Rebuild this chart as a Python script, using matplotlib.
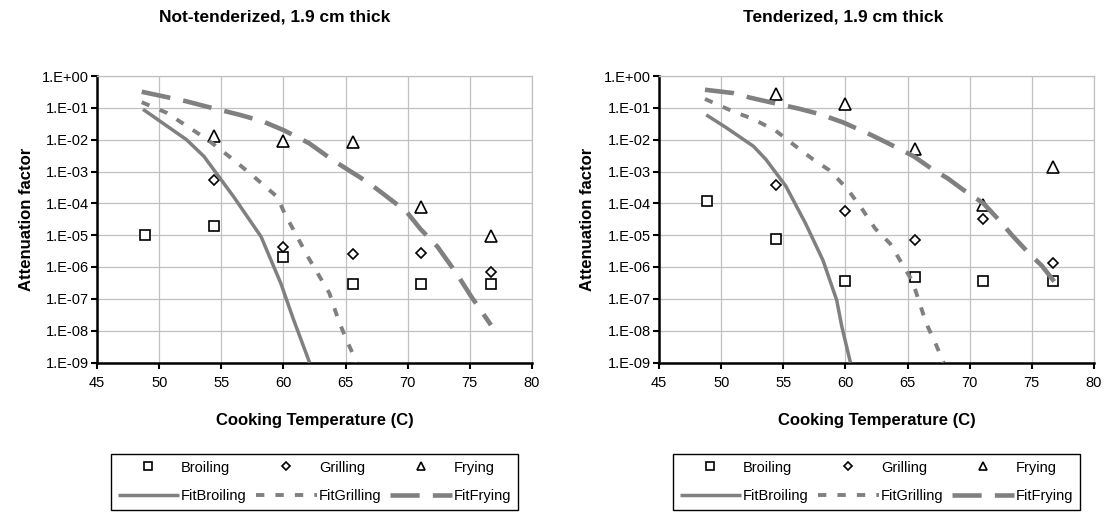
import matplotlib
matplotlib.use("Agg")
import matplotlib.pyplot as plt
from matplotlib.ticker import FixedLocator, FixedFormatter

plt.rcParams['font.family'] = ['Liberation Sans', 'DejaVu Sans']
plt.rcParams['lines.scale_dashes'] = False

# ---------------- data ----------------
titles = ["Not-tenderized, 1.9 cm thick", "Tenderized, 1.9 cm thick"]
x_label = "Cooking Temperature (C)"
y_label = "Attenuation factor"
series_names = ["Broiling", "Grilling", "Frying", "FitBroiling", "FitGrilling", "FitFrying"]

x_ticks = [45, 50, 55, 60, 65, 70, 75, 80]
y_ticks = [1e0, 1e-1, 1e-2, 1e-3, 1e-4, 1e-5, 1e-6, 1e-7, 1e-8, 1e-9]
y_tick_labels = ["1.E+00", "1.E-01", "1.E-02", "1.E-03", "1.E-04",
                 "1.E-05", "1.E-06", "1.E-07", "1.E-08", "1.E-09"]

temps_broil = [48.9, 54.4, 60.0, 65.6, 71.1, 76.7]
temps_other = [54.4, 60.0, 65.6, 71.1, 76.7]

# Not-tenderized measurements
nt_broiling = [1.0e-5, 2.0e-5, 2.0e-6, 3.0e-7, 3.0e-7, 3.0e-7]
nt_grilling = [5.5e-4, 4.3e-6, 2.6e-6, 2.8e-6, 7.1e-7]
nt_frying = [1.3e-2, 9.3e-3, 8.6e-3, 7.8e-5, 9.5e-6]

# Not-tenderized fitted curves
nt_fitbroil_x = [48.7, 52.2, 53.6, 56.0, 58.2, 59.8, 60.8, 62.1]
nt_fitbroil_y = [9e-2, 1e-2, 3e-3, 1.6e-4, 9e-6, 3e-7, 2.3e-8, 1e-9]
nt_fitgrill_x = [48.6, 50.6, 53.9, 56.0, 57.6, 59.5, 60.1, 62.0, 63.7, 64.4, 65.0, 65.9]
nt_fitgrill_y = [0.15, 0.07, 1e-2, 2.3e-3, 7e-4, 1.6e-4, 4.8e-5, 2e-6, 1.5e-7, 2.3e-8, 6e-9, 1e-9]
nt_fitfry_x = [48.6, 52.2, 53.8, 56.5, 58.3, 60.0, 62.05, 63.95, 66.9, 69.9, 71.0, 72.4, 73.9, 75.1, 76.7]
nt_fitfry_y = [0.32, 0.16, 0.11, 0.06, 0.038, 0.02, 7.8e-3, 2.3e-3, 4.3e-4, 5.5e-5, 1.6e-5, 4.3e-6, 6.5e-7, 1.2e-7, 1.5e-8]

# Tenderized measurements
t_broiling = [1.2e-4, 7.5e-6, 3.6e-7, 5.0e-7, 3.6e-7, 3.6e-7]
t_grilling = [3.7e-4, 5.7e-5, 7.0e-6, 3.2e-5, 1.3e-6]
t_frying = [0.27, 0.13, 5.0e-3, 8.9e-5, 1.4e-3]

# Tenderized fitted curves
t_fitbroil_x = [48.8, 50.4, 52.6, 53.6, 55.2, 56.8, 58.2, 59.3, 59.7, 60.4]
t_fitbroil_y = [0.06, 0.024, 6.2e-3, 2.4e-3, 3.5e-4, 2.3e-5, 1.6e-6, 9e-8, 1.4e-8, 1e-9]
t_fitgrill_x = [48.7, 50.8, 52.6, 54.4, 56.0, 57.4, 58.7, 60.1, 61.3, 62.4, 63.6, 64.4, 65.4, 66.5, 67.2, 67.9]
t_fitgrill_y = [0.19, 0.082, 0.044, 0.019, 6.2e-3, 2.4e-3, 1.1e-3, 3e-4, 7e-5, 1.6e-5, 5.4e-6, 1.6e-6, 3.5e-7, 1.7e-8, 4.4e-9, 1e-9]
t_fitfry_x = [48.7, 51.0, 52.3, 56.3, 57.9, 59.8, 62.0, 63.3, 65.5, 67.1, 68.2, 69.7, 71.1, 72.5, 73.4, 74.8, 75.8, 76.8]
t_fitfry_y = [0.37, 0.29, 0.21, 0.093, 0.064, 0.035, 0.0145, 8.2e-3, 3e-3, 1.1e-3, 6.2e-4, 2.3e-4, 1e-4, 2.6e-5, 1e-5, 2.6e-6, 1.1e-6, 3.5e-7]

panels = [
    dict(title=titles[0], broil=nt_broiling, grill=nt_grilling, fry=nt_frying,
         fb=(nt_fitbroil_x, nt_fitbroil_y), fg=(nt_fitgrill_x, nt_fitgrill_y),
         ff=(nt_fitfry_x, nt_fitfry_y)),
    dict(title=titles[1], broil=t_broiling, grill=t_grilling, fry=t_frying,
         fb=(t_fitbroil_x, t_fitbroil_y), fg=(t_fitgrill_x, t_fitgrill_y),
         ff=(t_fitfry_x, t_fitfry_y)),
]

# ---------------- layout ----------------
W, H = 1106, 516
fig = plt.figure(figsize=(W / 100, H / 100), dpi=100)

axes_px = [(97, 532), (659, 1094)]
ytop, ybot = 76, 362.5
title_cx = [275, 843]
ylab_cx = [27, 588]

GRID = '#C0C0C0'
FIT = '#808080'

for i, p in enumerate(panels):
    x0, x1 = axes_px[i]
    ax = fig.add_axes([x0 / W, 1 - ybot / H, (x1 - x0) / W, (ybot - ytop) / H])
    ax.set_yscale('log')
    ax.set_xlim(45, 80)
    ax.set_ylim(1e-9, 1e0)
    ax.xaxis.set_major_locator(FixedLocator(x_ticks))
    ax.yaxis.set_major_locator(FixedLocator(y_ticks))
    ax.yaxis.set_major_formatter(FixedFormatter(y_tick_labels))
    ax.yaxis.set_minor_locator(FixedLocator([]))
    ax.set_axisbelow(True)
    ax.grid(True, color=GRID, linewidth=0.9)

    for s in ['top', 'right']:
        ax.spines[s].set_color(GRID)
        ax.spines[s].set_linewidth(0.9)
    for s in ['left', 'bottom']:
        ax.spines[s].set_color('black')
        ax.spines[s].set_linewidth(1.8)
    ax.tick_params(axis='both', which='major', direction='out', length=4,
                   width=1.5, color='black', labelsize=10.5)
    ax.tick_params(axis='y', pad=2)
    ax.tick_params(axis='x', pad=6)

    mk = dict(linestyle='none', mec='black', mfc='white', mew=1.2, zorder=3, clip_on=False)
    hb, = ax.plot(temps_broil, p['broil'], marker='s', ms=7.5, label=series_names[0], **mk)
    hg, = ax.plot(temps_other, p['grill'], marker='D', ms=5.6, label=series_names[1], **mk)
    hf, = ax.plot(temps_other, p['fry'], marker='^', ms=8, label=series_names[2], **mk)

    lfb, = ax.plot(p['fb'][0], p['fb'][1], color=FIT, lw=2.5, solid_capstyle='butt',
                   label=series_names[3], zorder=4)
    lfg, = ax.plot(p['fg'][0], p['fg'][1], color=FIT, lw=2.8, dashes=(6, 8),
                   dash_capstyle='butt', label=series_names[4], zorder=4)
    lff, = ax.plot(p['ff'][0], p['ff'][1], color=FIT, lw=3.3, dashes=(21, 9.5),
                   dash_capstyle='butt', label=series_names[5], zorder=4)

    fig.text(title_cx[i] / W, 1 - 17 / H, p['title'], ha='center', va='center',
             fontsize=12.5, fontweight='bold')
    fig.text(ylab_cx[i] / W, 1 - (ytop + ybot) / 2 / H, y_label, rotation=90,
             ha='center', va='center', fontsize=12, fontweight='bold')
    fig.text((x0 + x1) / 2 / W, 1 - 421 / H, x_label, ha='center', va='center',
             fontsize=12, fontweight='bold')

    handles = [hb, lfb, hg, lfg, hf, lff]
    labels = [h.get_label() for h in handles]
    leg = ax.legend(handles, labels, loc='upper center',
                    bbox_to_anchor=((x0 + x1) / 2 / W, 1 - 454 / H),
                    bbox_transform=fig.transFigure, ncol=3, frameon=True,
                    fancybox=False, edgecolor='black', framealpha=1,
                    fontsize=10.5, handlelength=4.2, handletextpad=0.15,
                    columnspacing=0.6, borderpad=0.45, labelspacing=1.0,
                    markerscale=0.7, borderaxespad=0)
    leg.get_frame().set_linewidth(1.0)

fig.savefig('out.png', dpi=100)
